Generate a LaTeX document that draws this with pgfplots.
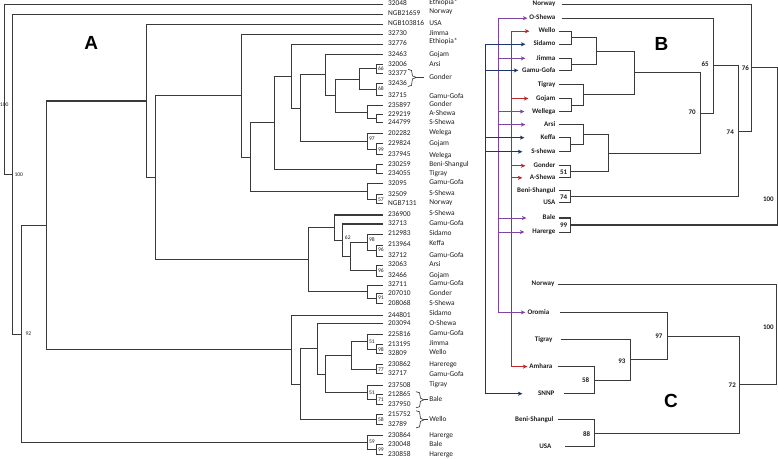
\documentclass[border=0pt]{standalone}
\usepackage{fontspec}
\setmainfont{Carlito}
\newfontfamily\bigf{Liberation Sans}
\usepackage{pgfplots}
\pgfplotsset{compat=1.18}
\usetikzlibrary{arrows.meta}
\definecolor{treegray}{HTML}{3A3A3A}
\definecolor{navyc}{HTML}{1F3468}
\definecolor{purpc}{HTML}{7E44A6}
\definecolor{redc}{HTML}{C0272D}
\definecolor{txt}{HTML}{1E1E1E}
\tikzset{
  tree/.style={draw=treegray, line width=1.05pt, mark=none},
  brace/.style={draw=treegray, line width=0.65pt, mark=none},
  idl/.style={anchor=west, font=\fontsize{7.4}{8}\selectfont, text=txt, inner sep=0pt, text height=4.8bp, text depth=1.4bp},
  bsa/.style={anchor=west, font=\fontsize{5.6}{6}\selectfont, text=txt, inner sep=0pt, text height=3.7bp, text depth=0.7bp},
  blab/.style={anchor=east, font=\fontsize{7}{8}\selectfont\bfseries, text=txt, inner sep=0pt, text height=4.8bp, text depth=1.4bp},
  bbs/.style={anchor=center, font=\fontsize{7}{8}\selectfont\bfseries, text=txt, inner sep=0pt},
  bigl/.style={anchor=center, font=\bigf\fontsize{19}{20}\selectfont\bfseries, text=black, inner sep=0pt},
}
\newcommand{\br}[5]{\addplot[tree] coordinates {(#2,#3) (#1,#3) (#1,#5) (#4,#5)};}
\newcommand{\arr}[4]{\addplot[#1, line width=0.9pt, -{Stealth[length=4.5bp,width=4bp,inset=1.2bp]}] coordinates {(#2,#3) (#4,#3)};}
\newcommand{\idl}[2]{\node[idl] at (axis cs:388,#1) {#2};}
\newcommand{\loc}[2]{\node[idl] at (axis cs:429,#1) {#2};}
\newcommand{\bsa}[3]{\node[bsa] at (axis cs:#1,#2) {#3};}
\newcommand{\bl}[3]{\node[blab] at (axis cs:#1,#2) {#3};}
\newcommand{\bb}[3]{\node[bbs] at (axis cs:#1,#2) {#3};}
\begin{document}
\begin{tikzpicture}
\begin{axis}[
  width=778bp, height=459bp, scale only axis,
  xmin=0, xmax=778, ymin=0, ymax=459, y dir=reverse,
  hide axis, clip=false,
]
% ================= Tree A =================
\br{377}{383}{65}{383}{74}
\br{377}{383}{84}{383}{96}
\br{360}{377}{69.5}{377}{90}
\br{377}{383}{115}{383}{123}
\br{368}{383}{106}{377}{119}
\br{336}{360}{79.75}{368}{112.5}
\br{326}{383}{55}{336}{96}
\br{377}{383}{144}{383}{155}
\br{368}{383}{134}{377}{149.5}
\br{301}{326}{75.5}{368}{142}
\br{292}{383}{45}{301}{108.75}
\br{377}{383}{165}{383}{174}
\br{275}{292}{76.9}{377}{169.5}
\br{377}{383}{195}{383}{204}
\br{368}{383}{184}{377}{199.5}
\br{251}{275}{123.2}{368}{191.75}
\br{242}{383}{35}{251}{157.5}
\br{377}{383}{245}{383}{256}
\br{368}{383}{234}{377}{250.5}
\br{377}{383}{265}{383}{276}
\br{351}{368}{242.25}{377}{270.5}
\br{343}{383}{224}{351}{256.4}
\br{335}{383}{215}{343}{240.2}
\br{377}{383}{293}{383}{303}
\br{368}{383}{285}{377}{298}
\br{309}{335}{227.6}{368}{291.5}
\br{157}{242}{96.25}{309}{259.5}
\br{148}{383}{25}{157}{177.9}
\br{377}{383}{344}{383}{353}
\br{368}{383}{334}{377}{348.5}
\br{377}{383}{364}{383}{373}
\br{352}{368}{341.25}{377}{368.5}
\br{377}{383}{394}{383}{404}
\br{368}{383}{385}{377}{399}
\br{326}{352}{354.9}{368}{392}
\br{318}{383}{323}{326}{373.4}
\br{377}{383}{414}{383}{424}
\br{301}{318}{348.2}{377}{419}
\br{292}{383}{315}{301}{383.6}
\br{48}{148}{101.5}{292}{349.3}
\br{377}{383}{444}{383}{454}
\br{368}{383}{435}{377}{449}
\br{23}{48}{225.4}{368}{442}
\br{14}{383}{15}{23}{333.7}
\br{6}{383}{5.5}{14}{174.3}
% braces
\addplot[brace] coordinates {(408,70) (411.5,71) (412.5,76.5) (416.5,78) (412.5,79.5) (411.5,86) (408,87)};
\addplot[brace] coordinates {(416.5,78) (424,78)};
\addplot[brace] coordinates {(416,391) (419.5,392) (420.5,397.5) (424,399) (420.5,400.5) (419.5,406) (416,407)};
\addplot[brace] coordinates {(424,399) (428,399)};
\addplot[brace] coordinates {(416,410) (419.5,411) (420.5,417.5) (424,419) (420.5,420.5) (419.5,426) (416,427)};
\addplot[brace] coordinates {(424,419) (428,419)};
% ids
\idl{5}{32048}\idl{15}{NGB21659}\idl{25}{NGB103816}\idl{35}{32730}\idl{45}{32776}
\idl{55}{32463}\idl{65}{32006}\idl{74}{32377}\idl{84}{32436}\idl{96}{32715}
\idl{106}{235897}\idl{115}{229219}\idl{123}{244799}\idl{134}{202282}\idl{144}{229824}
\idl{155}{237945}\idl{165}{230259}\idl{174}{234055}\idl{184}{32095}\idl{195}{32509}
\idl{204}{NGB7131}\idl{215}{236900}\idl{224}{32713}\idl{234}{212983}\idl{245}{213964}
\idl{256}{32712}\idl{265}{32063}\idl{276}{32466}\idl{285}{32711}\idl{293}{207010}
\idl{303}{208068}\idl{315}{244801}\idl{323}{203094}\idl{334}{225816}\idl{344}{213195}
\idl{353}{32809}\idl{364}{230862}\idl{373}{32717}\idl{385}{237508}\idl{394}{212865}
\idl{404}{237950}\idl{414}{215752}\idl{424}{32789}\idl{435}{230864}\idl{444}{230048}
\idl{454}{230858}
% locations
\loc{4}{Ethiopia*}\loc{13}{Norway}\loc{25}{USA}\loc{35}{Jimma}\loc{43}{Ethiopia*}
\loc{55}{Gojam}\loc{65}{Arsi}\loc{78}{Gonder}\loc{97}{Gamu-Gofa}\loc{105}{Gonder}
\loc{114}{A-Shewa}\loc{123}{S-Shewa}\loc{133}{Welega}\loc{144}{Gojam}\loc{156}{Welega}
\loc{165}{Beni-Shangul}\loc{174}{Tigray}\loc{183}{Gamu-Gofa}\loc{194}{S-Shewa}\loc{203}{Norway}
\loc{214}{S-Shewa}\loc{224}{Gamu-Gofa}\loc{234}{Sidamo}\loc{244}{Keffa}\loc{256}{Gamu-Gofa}
\loc{265}{Arsi}\loc{276}{Gojam}\loc{284}{Gamu-Gofa}\loc{293}{Gonder}\loc{303}{S-Shewa}
\loc{313}{Sidamo}\loc{323}{O-Shewa}\loc{333}{Gamu-Gofa}\loc{343}{Jimma}\loc{352}{Wello}
\loc{364}{Harerege}\loc{374}{Gamu-Gofa}\loc{384}{Tigray}\loc{399}{Bale}\loc{419}{Wello}
\loc{435}{Harerge}\loc{444}{Bale}\loc{454}{Harerge}
% bootstrap A
\bsa{378}{70}{66}\bsa{378}{90}{68}\bsa{369}{139}{97}\bsa{378}{150}{99}\bsa{378}{200}{57}
\bsa{345}{238}{62}\bsa{369}{240}{98}\bsa{378}{250}{96}\bsa{378}{271}{96}\bsa{378}{298}{91}
\bsa{369}{341}{51}\bsa{378}{349}{98}\bsa{378}{369}{77}\bsa{369}{392}{51}\bsa{378}{399}{71}
\bsa{378}{419}{58}\bsa{369}{441}{59}\bsa{378}{449}{99}
\bsa{1.5}{105}{100}\bsa{16}{175}{100}\bsa{27}{334}{92}
\node[bigl] at (axis cs:92.5,43.5) {A};
% ================= Tree B =================
\br{571}{558}{32}{558}{45}
\br{571}{558}{59}{558}{71}
\br{596}{571}{38.5}{571}{65}
\br{571}{558}{99}{558}{112}
\br{583}{558}{85}{571}{105.5}
\br{634}{596}{51.75}{583}{95.25}
\br{570}{558}{138}{558}{152}
\br{583}{558}{125}{570}{145}
\br{570}{558}{166}{558}{178}
\br{608}{583}{135}{570}{172}
\br{699}{634}{73.5}{608}{153.5}
\br{712}{561}{19}{699}{113.5}
\br{570}{558}{191}{558}{203}
\br{737}{712}{66.25}{570}{197}
\br{750}{561}{5}{737}{131.6}
\br{570}{558}{218}{558}{232}
\br{776}{750}{68.3}{570}{225}
\bl{555}{5}{Norway}\bl{555}{19}{O-Shewa}\bl{555}{32}{Wello}\bl{555}{45}{Sidamo}
\bl{555}{59}{Jimma}\bl{555}{71}{Gamu-Gofa}\bl{555}{85}{Tigray}\bl{555}{99}{Gojam}
\bl{555}{112}{Wellega}\bl{555}{125}{Arsi}\bl{555}{138}{Keffa}\bl{555}{152}{S-shewa}
\bl{555}{166}{Gonder}\bl{555}{178}{A-Shewa}\bl{555}{191}{Beni-Shangul}\bl{555}{203}{USA}
\bl{555}{218}{Bale}\bl{555}{232}{Harerge}
\bb{704}{65}{65}\bb{691}{113}{70}\bb{744}{69}{76}\bb{729}{133}{74}
\bb{563}{172}{51}\bb{563}{197}{74}\bb{563}{225}{99}\bb{767}{199}{100}
\node[bigl] at (axis cs:660.5,44.5) {B};
% ================= Tree C =================
\br{594}{557}{366}{563}{393}
\br{630}{560}{339}{594}{379.5}
\br{666}{559}{312}{630}{359.25}
\br{594}{557}{419}{564}{446}
\br{738}{666}{335.6}{594}{432.5}
\br{775}{557}{284}{738}{384}
\bl{554}{284}{Norway}\bl{549}{312}{Oromia}\bl{552}{339}{Tigray}\bl{552}{366}{Amhara}
\bl{554}{393}{SNNP}\bl{553}{419}{Beni-Shangul}\bl{551}{446}{USA}
\bb{585}{379}{58}\bb{621}{361}{93}\bb{658}{336}{97}\bb{586}{433}{88}\bb{731}{385}{72}\bb{767}{327}{100}
\node[bigl] at (axis cs:670,400) {C};
% ================= arrows =================
\addplot[navyc, line width=0.9pt] coordinates {(485,45) (485,393)};
\addplot[purpc, line width=0.9pt] coordinates {(498,19) (498,312)};
\addplot[redc, line width=0.9pt] coordinates {(511,32) (511,366)};
\arr{purpc}{498}{19}{527}
\arr{redc}{511}{32}{529}
\arr{navyc}{485}{45}{525}
\arr{purpc}{498}{59}{525}
\arr{navyc}{485}{71}{518}
\arr{redc}{511}{99}{528}
\arr{purpc}{498}{112}{524}
\arr{purpc}{498}{125}{525}
\arr{navyc}{485}{138}{524}
\arr{navyc}{485}{152}{522}
\arr{redc}{511}{166}{525}
\arr{redc}{511}{178}{522}
\arr{purpc}{498}{218}{526}
\arr{purpc}{498}{232}{524}
\arr{purpc}{498}{312}{525}
\arr{redc}{511}{366}{527}
\arr{navyc}{485}{393}{522}
\end{axis}
\end{tikzpicture}
\end{document}
